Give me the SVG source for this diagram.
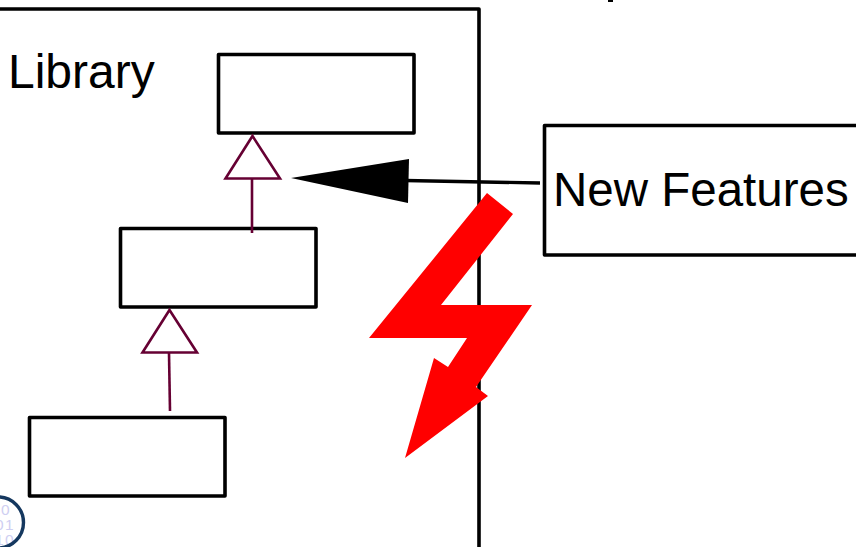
<svg xmlns="http://www.w3.org/2000/svg" width="856" height="547" viewBox="0 0 856 547">
<style>
.box{fill:#fff;stroke:#000;stroke-width:3.6;stroke-linejoin:round}
.frame{fill:none;stroke:#000;stroke-width:3.6;stroke-linejoin:round}
.inh{fill:none;stroke:#660033;stroke-width:2.6}
.tri{fill:#fff;stroke:#660033;stroke-width:2.6}
.lbl{font-family:"Liberation Sans",Arial,sans-serif;font-size:47.500px;fill:#000}
.bit{font-family:"Liberation Sans",Arial,sans-serif;font-size:15.500px;letter-spacing:1.500px;fill:#cfcff2}
</style>
<rect width="856" height="547" fill="#fff"/>
<path id="library" class="frame" d="M-3 9H479V550"/>
<g id="library-label"><text class="lbl" x="8" y="88" style="font-size:48px">Library</text></g>
<g id="class-top"><rect class="box" x="218.500" y="54.500" width="195.500" height="78.500"/></g>
<g id="class-middle"><rect class="box" x="120.500" y="228.500" width="195.500" height="78.500"/></g>
<g id="class-bottom"><rect class="box" x="29.500" y="417.500" width="195.500" height="78.500"/></g>
<g id="new-features"><rect class="box" x="544.500" y="125.500" width="330" height="129.500"/><text class="lbl" x="553" y="206">New Features</text></g>
<g id="connectors">
<path class="inh" d="M252 233V178"/>
<path class="tri" d="M252.500 136L280 178.500H225.500Z"/>
<path class="inh" d="M170 411L169 353"/>
<path class="tri" d="M169.500 310L197 352.500H142.500Z"/>
<path d="M540 183L405 180.500" fill="none" stroke="#000" stroke-width="3.4"/>
<path d="M291 178L409 159L408 203Z" fill="#000"/>
</g>
<g id="lightning"><path d="M487 193L513 214L441 305H532L476 387L488 396L405 458L434 358L448 367L467 338H369Z" fill="#f00"/></g>
<g id="logo">
<text class="bit" x="-9" y="515">00</text><text class="bit" x="-5" y="530">01</text><text class="bit" x="-5" y="545">10</text>
<circle cx="-2" cy="522.500" r="25.500" fill="none" stroke="#15385f" stroke-width="3.400"/>
</g>
<rect id="top-fragment" x="608" y="0" width="5" height="2" fill="#000"/>
</svg>
